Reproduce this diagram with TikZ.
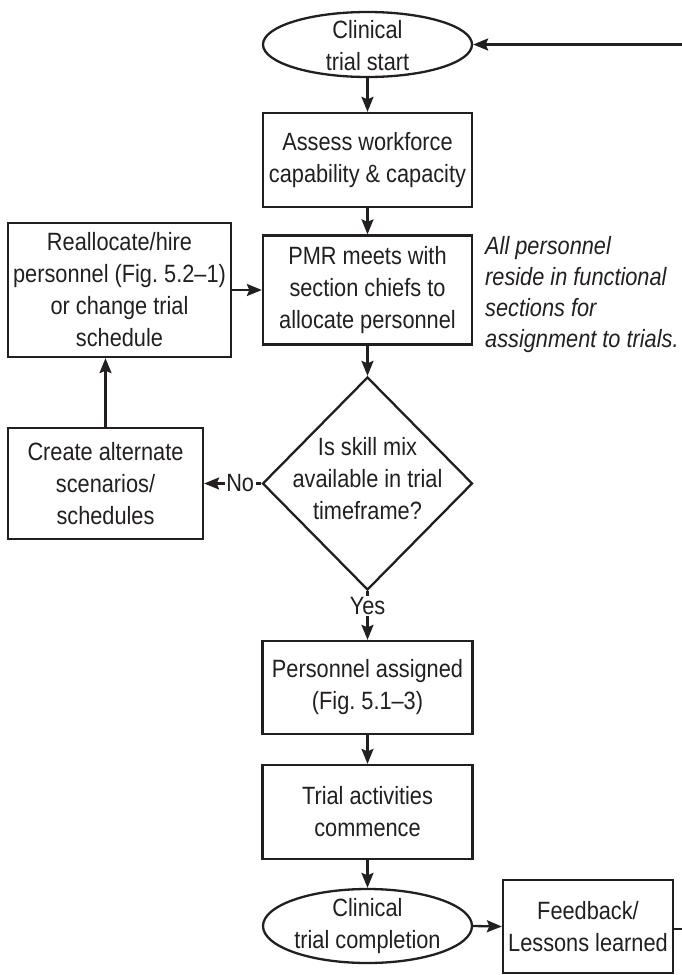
\documentclass[tikz,border=0pt]{standalone}
\usepackage{fontspec}
\setmainfont{Liberation Sans}[FakeStretch=0.87]
\usetikzlibrary{shapes.geometric,arrows.meta}
\definecolor{ink}{HTML}{231F20}
\frenchspacing
\begin{document}
\begin{tikzpicture}[x=1pt,y=-1pt,
  every node/.style={font=\fontsize{25}{32}\selectfont, text=ink},
  stepbox/.style={draw=ink, line width=2.3pt, rectangle, align=center, inner sep=0pt},
  oval/.style={draw=ink, line width=2.3pt, ellipse, inner sep=0pt},
  decision/.style={draw=ink, line width=2.3pt, diamond, inner sep=0pt},
  caption/.style={align=center, inner sep=0pt},
  flow/.style={draw=ink, line width=2.3pt, -{Stealth[length=15pt,width=12pt,inset=2.5pt]}},
  plain/.style={draw=ink, line width=2.3pt},
  answer/.style={fill=white, inner sep=1.5pt},
]
\useasboundingbox (0,0) rectangle (681,975);

% start terminal
\node[oval, minimum width=209pt, minimum height=65pt] (start) at (367.5,44.5) {};
\node[caption] (starttext) at (367.5,46) {Clinical\\trial start};

% main column of steps
\node[stepbox, minimum width=209pt, minimum height=94pt] (assess) at (367.5,160)
  {Assess workforce\\capability \& capacity};
\node[stepbox, minimum width=209pt, minimum height=109pt] (pmr) at (367.5,290)
  {PMR meets with\\section chiefs to\\allocate personnel};

% side note
\node[anchor=north west, align=left, inner sep=0pt, font=\fontsize{25}{31}\selectfont\itshape]
  (note) at (485,236)
  {All personnel\\reside in functional\\sections for\\assignment to trials.};

% left loop boxes
\node[stepbox, minimum width=223pt, minimum height=134pt] (realloc) at (119.5,290)
  {Reallocate/hire\\personnel (Fig. 5.2--1)\\or change trial\\schedule};
\node[stepbox, minimum width=195pt, minimum height=111pt] (create) at (105.5,483.5)
  {Create alternate\\scenarios/\\schedules};

% decision
\node[decision, minimum width=210pt, minimum height=213pt] (dia) at (367.5,483.5) {};
\node[caption] (diatext) at (367.5,479) {Is skill mix\\available in trial\\timeframe?};

% lower column
\node[stepbox, minimum width=210pt, minimum height=93pt] (assigned) at (367.5,687.5)
  {Personnel assigned\\(Fig. 5.1--3)};
\node[stepbox, minimum width=210pt, minimum height=94pt] (activities) at (367.5,812)
  {Trial activities\\commence};

% end terminal and feedback
\node[oval, minimum width=209pt, minimum height=74pt] (finish) at (367.5,926) {};
\node[caption] (finishtext) at (367.5,926) {Clinical\\trial completion};
\node[stepbox, minimum width=170pt, minimum height=93pt] (feedback) at (588,926.5)
  {Feedback/\\Lessons learned};

% loose ends of the return path
\coordinate (retout) at (684,929);
\coordinate (retin) at (684,44.5);

% connectors
\draw[flow] (start) -- (assess);
\draw[flow] (assess) -- (pmr);
\draw[flow] (realloc.east) -- (pmr.west);
\draw[flow] (pmr) -- (dia.north);
\draw[flow] (dia.west) -- node[answer, pos=0.37] (no) {No} (create.east);
\draw[flow] (create.north) -- (create.north |- realloc.south);
\draw[flow] (dia.south) -- node[answer, pos=0.3] (yes) {Yes} (assigned.north);
\draw[flow] (assigned) -- (activities);
\draw[flow] (activities) -- (finish.north);
\draw[flow] (finish.east) -- (feedback.west);
\draw[plain] (feedback.east |- retout) -- (retout);
\draw[flow] (retin) -- (start.east);
\end{tikzpicture}
\end{document}
